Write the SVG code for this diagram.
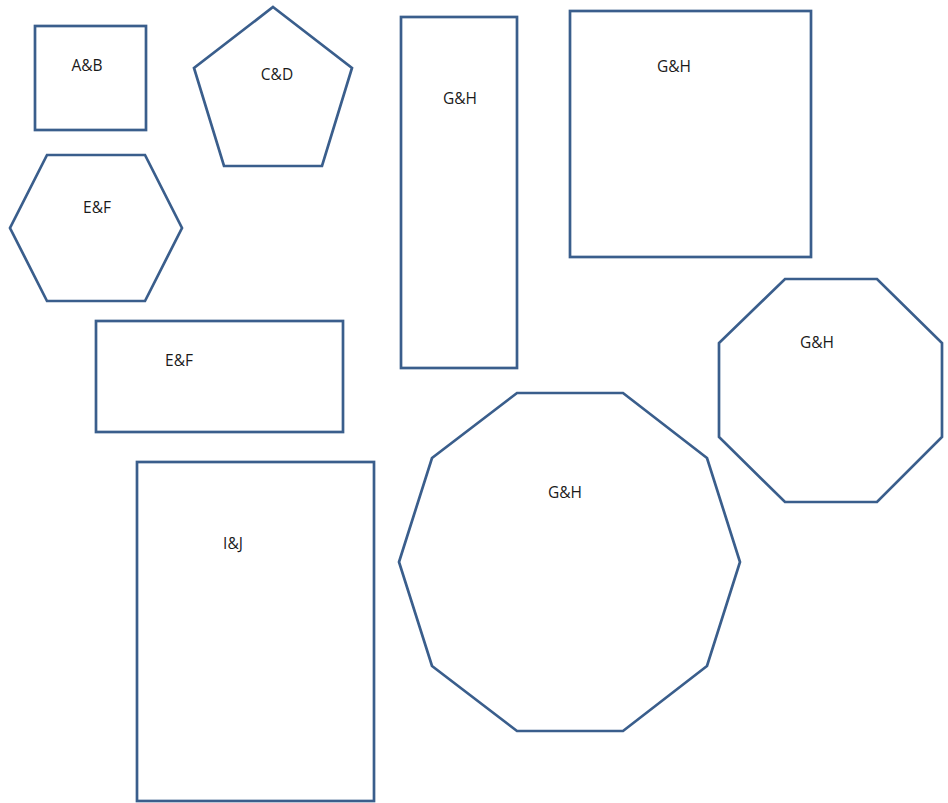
<svg xmlns="http://www.w3.org/2000/svg" width="948" height="803" viewBox="0 0 948 803">
<style>
.s{fill:#fff;stroke:#3a5e8c;stroke-width:2.7;stroke-linejoin:miter}
.t{font-family:"Open Sans","Liberation Sans",sans-serif;font-size:15.5px;fill:#1a1a1a;text-anchor:middle}
</style>
<rect width="948" height="803" fill="#fff"/>
<g id="n1"><rect class="s" x="35" y="26" width="111" height="104"/><text class="t" x="87" y="71">A&amp;B</text></g>
<g id="n2"><polygon class="s" points="273,7 352,68 322,166 224,166 194,68"/><text class="t" x="277" y="80">C&amp;D</text></g>
<g id="n3"><polygon class="s" points="47,155 145,155 182,228 145,301 47,301 10,228"/><text class="t" x="97" y="213">E&amp;F</text></g>
<g id="n4"><rect class="s" x="96" y="321" width="247" height="111"/><text class="t" x="179" y="366">E&amp;F</text></g>
<g id="n5"><rect class="s" x="137" y="462" width="237" height="339"/><text class="t" x="233" y="549">I&amp;J</text></g>
<g id="n6"><rect class="s" x="401" y="17" width="116" height="351"/><text class="t" x="460" y="104">G&amp;H</text></g>
<g id="n7"><rect class="s" x="570" y="11" width="241" height="246"/><text class="t" x="674" y="72">G&amp;H</text></g>
<g id="n8"><polygon class="s" points="785,279 877,279 942,343 942,437 877,502 785,502 719,437 719,343"/><text class="t" x="817" y="348">G&amp;H</text></g>
<g id="n9"><polygon class="s" points="517,393 623,393 707,458 740,562 707,666 623,731 517,731 432,666 399,562 432,458"/><text class="t" x="565" y="498">G&amp;H</text></g>
<g id="connectors"></g>
</svg>
